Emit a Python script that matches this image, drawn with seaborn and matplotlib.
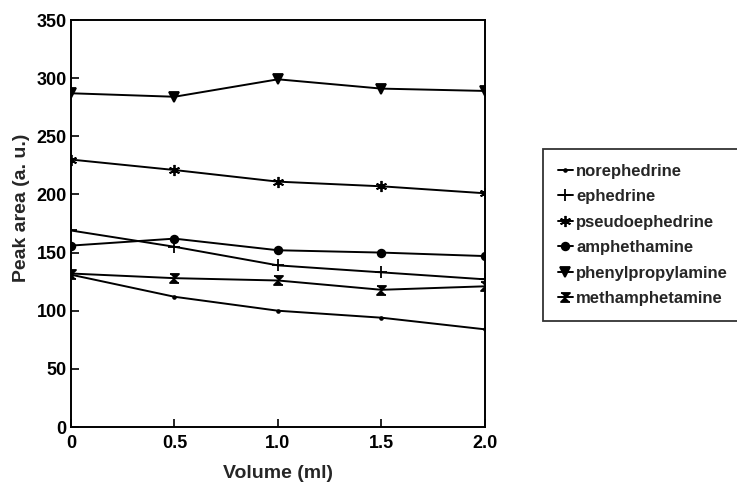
import matplotlib
matplotlib.use('Agg')
import matplotlib.pyplot as plt
import seaborn as sns
import pandas as pd

# volumes (ml) and peak areas
volume = [0.0, 0.5, 1.0, 1.5, 2.0]
norephedrine = [131, 112, 100, 94, 84]
ephedrine = [169, 155, 139, 133, 127]
pseudoephedrine = [230, 221, 211, 207, 201]
amphethamine = [156, 162, 152, 150, 147]
phenylpropylamine = [287, 284, 299, 291, 289]
methamphetamine = [132, 128, 126, 118, 121]

compounds = ["norephedrine", "ephedrine", "pseudoephedrine",
             "amphethamine", "phenylpropylamine", "methamphetamine"]
series = [norephedrine, ephedrine, pseudoephedrine,
          amphethamine, phenylpropylamine, methamphetamine]

df = pd.DataFrame({
    "Volume (ml)": volume * len(compounds),
    "Peak area (a. u.)": [v for s in series for v in s],
    "compound": [c for c in compounds for _ in volume],
})

sns.set_theme(style="ticks")
plt.rcParams['font.family'] = ['Liberation Sans', 'DejaVu Sans']

hourglass = [(-1, 1), (1, 1), (-1, -1), (1, -1)]
markers = {
    "norephedrine": ".",
    "ephedrine": "+",
    "pseudoephedrine": (6, 2, 0),
    "amphethamine": "o",
    "phenylpropylamine": "v",
    "methamphetamine": hourglass,
}
sizes = {"norephedrine": 4, "ephedrine": 9, "pseudoephedrine": 8,
         "amphethamine": 5.5, "phenylpropylamine": 6.5, "methamphetamine": 6.5}

fig = plt.figure(figsize=(7.37, 4.94), dpi=100)
ax = fig.add_axes([0.0963, 0.1356, 0.5617, 0.8239])

# seaborn can't mix filled and line-art markers in one call, so one call per compound
for c in compounds:
    sns.lineplot(data=df[df["compound"] == c], x="Volume (ml)", y="Peak area (a. u.)",
                 color="black", marker=markers[c], markersize=sizes[c],
                 markeredgewidth=1.3, markerfacecolor="black", markeredgecolor="black",
                 linewidth=1.4, label=c, ax=ax)

ax.set_xlim(0, 2.0)
ax.set_ylim(0, 350)
ax.set_xticks(volume)
ax.set_xticklabels(["0", "0.5", "1.0", "1.5", "2.0"])
ax.set_yticks(range(0, 351, 50))
ax.tick_params(direction="in", length=6, width=1.2, colors="black",
               labelsize=13, top=False, right=False)
ax.tick_params(axis="x", pad=6)
ax.tick_params(axis="y", pad=3)
for lbl in ax.get_xticklabels() + ax.get_yticklabels():
    lbl.set_fontweight("bold")
for sp in ax.spines.values():
    sp.set_linewidth(1.4)
    sp.set_color("black")
    sp.set_visible(True)

ax.set_xlabel("Volume (ml)", fontsize=14, fontweight="bold", labelpad=9)
ax.set_ylabel("Peak area (a. u.)", fontsize=14, fontweight="bold")
ax.yaxis.set_label_coords(-0.10, 0.538)

leg = ax.legend(loc="center left", bbox_to_anchor=(1.14, 0.472), borderaxespad=0,
                frameon=True, fancybox=False, edgecolor="black",
                handlelength=0.9, handletextpad=0.2, labelspacing=0.63,
                borderpad=0.9, prop={"size": 12, "weight": "bold"})
leg.get_frame().set_linewidth(1.3)

fig.savefig("out.png", dpi=100)
